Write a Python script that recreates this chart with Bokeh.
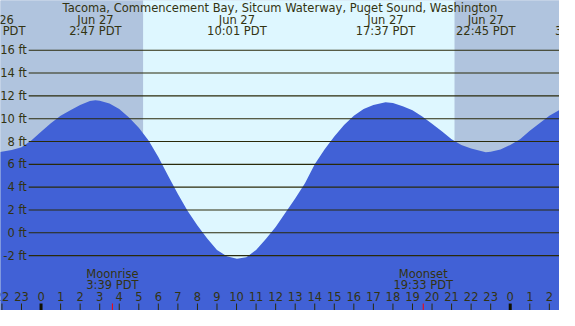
from bokeh.plotting import figure
from bokeh.models import Range1d
from bokeh.core.properties import value
from bokeh.embed import file_html
from bokeh.resources import INLINE

# ---- data (hours from Jun 27 00:00 PDT, heights in ft) ----
tide_hours = [-2.2, -1.5, -1, -0.5, 0, 0.5, 1, 1.5, 2, 2.5, 2.78, 3, 3.5, 4, 4.5, 5, 5.5,
              6, 6.5, 7, 7.5, 8, 8.5, 9, 9.5, 10.02, 10.5, 11, 11.5, 12, 12.5, 13, 13.5,
              14, 14.5, 15, 15.5, 16, 16.5, 17, 17.62, 18, 18.5, 19, 19.5, 20, 20.5, 21,
              21.5, 22, 22.75, 23, 23.5, 24, 24.5, 25, 25.5, 26, 26.7]
tide_ft = [7.05, 7.25, 7.5, 8.1, 8.85, 9.6, 10.25, 10.75, 11.2, 11.55, 11.62, 11.58,
           11.33, 10.85, 10.1, 9.2, 8.1, 6.65, 5.0, 3.4, 1.9, 0.65, -0.5, -1.5, -2.05,
           -2.28, -2.15, -1.5, -0.55, 0.5, 1.75, 3.0, 4.35, 6.0, 7.3, 8.45, 9.45, 10.25,
           10.85, 11.2, 11.45, 11.37, 11.1, 10.75, 10.2, 9.55, 8.9, 8.2, 7.7, 7.38, 7.07,
           7.1, 7.3, 7.7, 8.2, 8.95, 9.6, 10.25, 10.95]

extreme_hours = [-2.32, 2.783, 10.017, 17.617, 22.75, 27.63]
extreme_dates = ["Jun 26", "Jun 27", "Jun 27", "Jun 27", "Jun 27", "Jun 28"]
extreme_times = ["21:41 PDT", "2:47 PDT", "10:01 PDT", "17:37 PDT", "22:45 PDT", "3:38 PDT"]

sunrise_h = 5.22
sunset_h = 21.15

moon_hours = [3.65, 19.55]
moon_names = ["Moonrise", "Moonset"]
moon_times = ["3:39 PDT", "19:33 PDT"]

grid_ft = [-2, 0, 2, 4, 6, 8, 10, 12, 14, 16]
grid_labels = ["-2 ft", "0 ft", "2 ft", "4 ft", "6 ft", "8 ft", "10 ft", "12 ft", "14 ft", "16 ft"]

hour_ticks = list(range(-2, 27))
hour_labels = [str(h % 24) for h in hour_ticks]

title_text = "Tacoma, Commencement Bay, Sitcum Waterway, Puget Sound, Washington"

# ---- layout ----
X0, X1 = -2.074, 26.52
Y0, Y1 = -6.81, 20.36

TXT = "#333311"
LINE = "#2a2a0a"
NIGHT = "#B0C4DE"
DAY = "#DEF7FF"
WATER = "#4161D6"
FONT = value("DejaVu Sans")
FS = "11.5px"

p = figure(width=559, height=310, output_backend="svg", toolbar_location=None,
           x_range=Range1d(X0, X1), y_range=Range1d(Y0, Y1),
           min_border=0, x_axis_type=None, y_axis_type=None)
p.grid.visible = False
p.outline_line_color = None
p.background_fill_color = NIGHT
p.border_fill_color = "white"

# day / night background
p.quad(left=[X0 - 1, sunset_h], right=[sunrise_h, X1 + 1], bottom=Y0 - 1, top=Y1 + 1,
       fill_color=NIGHT, line_color=None)
p.quad(left=[sunrise_h], right=[sunset_h], bottom=Y0 - 1, top=Y1 + 1,
       fill_color=DAY, line_color=None)

# tide
p.varea(x=tide_hours, y1=[Y0 - 1] * len(tide_hours), y2=tide_ft, fill_color=WATER)

# gridlines + labels
gx0 = -0.632
p.segment(x0=[gx0] * len(grid_ft), x1=[X1 + 1] * len(grid_ft), y0=grid_ft, y1=grid_ft,
          line_color=LINE, line_width=1.1)
p.text(x=[-0.73] * len(grid_ft), y=grid_ft, text=grid_labels, text_align="right",
       text_baseline="middle", text_font=FONT, text_font_size=FS, text_color=TXT)

# title
p.text(x=[(X0 + X1) / 2], y=[19.73], text=[title_text], text_align="center",
       text_baseline="middle", text_font=FONT, text_font_size=FS, text_color=TXT)

# tide extreme labels
p.text(x=extreme_hours, y=[18.69] * len(extreme_hours), text=extreme_dates,
       text_align="center", text_baseline="middle", text_font=FONT,
       text_font_size=FS, text_color=TXT)
p.text(x=extreme_hours, y=[17.73] * len(extreme_hours), text=extreme_times,
       text_align="center", text_baseline="middle", text_font=FONT,
       text_font_size=FS, text_color=TXT)

# moon labels
p.text(x=moon_hours, y=[-3.6] * 2, text=moon_names, text_align="center",
       text_baseline="middle", text_font=FONT, text_font_size=FS, text_color=TXT)
p.text(x=moon_hours, y=[-4.54] * 2, text=moon_times, text_align="center",
       text_baseline="middle", text_font=FONT, text_font_size=FS, text_color=TXT)

# hour ticks
tick_top = -6.2
reg = [h for h in hour_ticks if h % 24 != 0]
mid = [h for h in hour_ticks if h % 24 == 0]
p.segment(x0=reg, x1=reg, y0=[Y0 - 1] * len(reg), y1=[tick_top] * len(reg),
          line_color=LINE, line_width=1)
p.segment(x0=mid, x1=mid, y0=[Y0 - 1] * len(mid), y1=[tick_top] * len(mid),
          line_color="#111100", line_width=3)
p.segment(x0=moon_hours, x1=moon_hours, y0=[Y0 - 1] * 2, y1=[tick_top] * 2,
          line_color="red", line_width=1)
p.text(x=hour_ticks, y=[-5.62] * len(hour_ticks), text=hour_labels, text_align="center",
       text_baseline="middle", text_font=FONT, text_font_size=FS, text_color=TXT)

open("out.html", "w").write(file_html(p, INLINE))
